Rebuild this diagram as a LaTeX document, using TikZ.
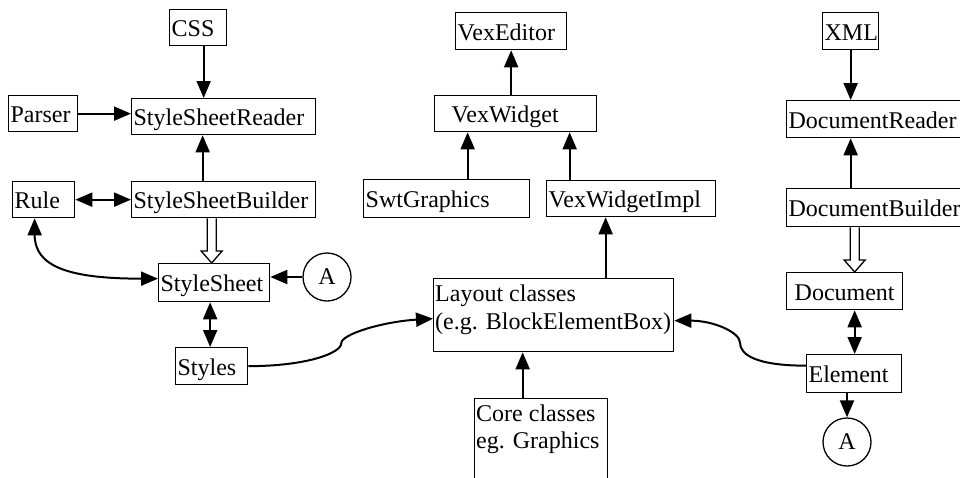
\documentclass[tikz,border=0pt]{standalone}
\usepackage{fontspec}
\setmainfont{Liberation Serif}
\usetikzlibrary{arrows.meta,calc}
\tikzset{
  every node/.style={font=\fontsize{24}{27}\selectfont},
  box/.style={draw, line width=1.3pt, rectangle, anchor=north west, inner xsep=2pt, inner ysep=0pt,
    align=left, text height=20pt, text depth=2pt},
  emptybox/.style={draw, line width=1.3pt, rectangle, anchor=north west, inner sep=0pt},
  lbl/.style={anchor=base west, inner sep=0pt},
  conn/.style={line width=2pt, -{Triangle[length=17pt,width=14pt]}},
  bi/.style={line width=2pt, {Triangle[length=17pt,width=14pt]}-{Triangle[length=17pt,width=14pt]}},
  circ/.style={draw, circle, line width=1.3pt, minimum size=48pt, inner sep=0pt},
  hollow/.style={draw, line width=1.3pt, fill=white, line join=miter}
}
\begin{document}
\begin{tikzpicture}[x=1pt,y=-1pt]
\useasboundingbox (0,0) rectangle (960,477);
% left group
\node[box, minimum width=57pt, text width=53pt, minimum height=36pt] (css) at (169,9) {CSS};
\node[box, minimum width=69pt, text width=65pt, minimum height=36pt] (parser) at (8,95) {Parser};
\node[box, minimum width=184pt, text width=180pt, minimum height=36pt] (ssr) at (131,98) {StyleSheetReader};
\node[box, minimum width=62pt, text width=58pt, minimum height=36pt] (rule) at (12,181) {Rule};
\node[box, minimum width=184pt, text width=180pt, minimum height=36pt] (ssb) at (131,181) {StyleSheetBuilder};
\node[box, minimum width=111pt, text width=107pt, minimum height=38pt] (ss) at (158,263) {StyleSheet};
\node[box, minimum width=72pt, text width=68pt, minimum height=37pt] (styles) at (175,347) {Styles};
\node[circ] (a1) at (327,277) {A};
% middle group
\node[box, minimum width=111pt, text width=107pt, minimum height=37pt] (vexeditor) at (455,12) {VexEditor};
\node[box, inner xsep=17pt, minimum width=162pt, text width=128pt, minimum height=36pt] (vexwidget) at (434,95) {VexWidget};
\node[box, minimum width=166pt, text width=162pt, minimum height=38pt] (swt) at (363,179) {SwtGraphics};
\node[box, minimum width=169pt, text width=165pt, minimum height=36pt] (vwi) at (546,180) {VexWidgetImpl};
\node[emptybox, minimum width=240pt, minimum height=73pt] (layout) at (433,278) {};
\node[lbl] (layoutA) at (435,301) {Layout classes};
\node[lbl] (layoutB) at (435,329) {(e.g. BlockElementBox)};
\node[emptybox, minimum width=133pt, minimum height=130pt] (core) at (474,398) {};
\node[lbl] (coreA) at (476,421) {Core classes};
\node[lbl] (coreB) at (476,448) {eg. Graphics};
% right group
\node[box, minimum width=56pt, text width=52pt, minimum height=37pt] (xml) at (822,12) {XML};
\node[box, minimum width=184pt, text width=180pt, minimum height=37pt] (dr) at (786,100) {DocumentReader};
\node[box, minimum width=184pt, text width=180pt, minimum height=38pt] (db) at (786,188) {DocumentBuilder};
\node[box, align=center, minimum width=116pt, text width=112pt, minimum height=37pt] (doc) at (786,272) {Document};
\node[box, minimum width=95pt, text width=91pt, minimum height=38pt] (elem) at (806,354) {Element};
\node[circ] (a2) at (847,442) {A};

% connectors left
\draw[conn] ([xshift=5.5pt]css.south) -- ([xshift=5.5pt]css.south |- ssr.north);
\draw[conn] (parser.east) -- (parser.east -| ssr.west);
\draw[conn] ([xshift=-21pt]ssb.north) -- ([xshift=-21pt]ssr.south);
\draw[bi] (rule.east) -- (rule.east -| ssb.west);
\coordinate (h1) at ([xshift=-2.5pt]ss.north);
\draw[hollow] ([xshift=-4.5pt]h1 |- ssb.south) -- ([xshift=-4.5pt,yshift=12pt]h1) -- ([xshift=-10.5pt,yshift=12pt]h1)
  -- (h1) -- ([xshift=10.5pt,yshift=12pt]h1) -- ([xshift=4.5pt,yshift=12pt]h1) -- ([xshift=4.5pt]h1 |- ssb.south);
\draw[conn] (a1.west) -- (a1.west -| ss.east);
\draw[bi] ([xshift=-9pt]rule.south) .. controls +(0,48) and +(-90,0) .. ([yshift=4pt]ss.west);
\draw[bi] ([xshift=-4pt]ss.south) -- ([xshift=-4pt]ss.south |- styles.north);
\draw[conn] (styles.east) .. controls +(58,0) and +(0,10) .. ++(93,-23)
  .. controls +(0,-9) and +(-50,3) .. ([yshift=-3.5pt]layout.west);
% connectors middle
\draw[conn] ([xshift=52pt]layout.north) -- ([xshift=52pt]layout.north |- vwi.south);
\draw[conn] ([xshift=-18.5pt]core.north) -- ([xshift=-18.5pt]core.north |- layout.south);
\draw[conn] ([xshift=21pt]swt.north) -- ([xshift=21pt]swt.north |- vexwidget.south);
\draw[conn] ([xshift=-61.5pt]vwi.north) -- ([xshift=-61.5pt]vwi.north |- vexwidget.south);
\draw[conn] (vexeditor.south |- vexwidget.north) -- (vexeditor.south);
% connectors right
\draw[conn] (xml.south) -- (xml.south |- dr.north);
\draw[conn] (xml.south |- db.north) -- (xml.south |- dr.south);
\coordinate (h2) at ([xshift=10pt]doc.north);
\draw[hollow] ([xshift=-4.5pt]h2 |- db.south) -- ([xshift=-4.5pt,yshift=12pt]h2) -- ([xshift=-10.5pt,yshift=12pt]h2)
  -- (h2) -- ([xshift=10.5pt,yshift=12pt]h2) -- ([xshift=4.5pt,yshift=12pt]h2) -- ([xshift=4.5pt]h2 |- db.south);
\draw[bi] ([xshift=10pt]doc.south) -- ([xshift=10pt]doc.south |- elem.north);
\draw[conn] (a2.north |- elem.south) -- (a2.north);
\draw[conn] ([yshift=8pt]elem.west) .. controls +(-50,0) and +(0,12) .. ++(-66,-23)
  .. controls +(0,-10) and +(40,0) .. ([yshift=-5.5pt]layout.east);
\end{tikzpicture}
\end{document}
